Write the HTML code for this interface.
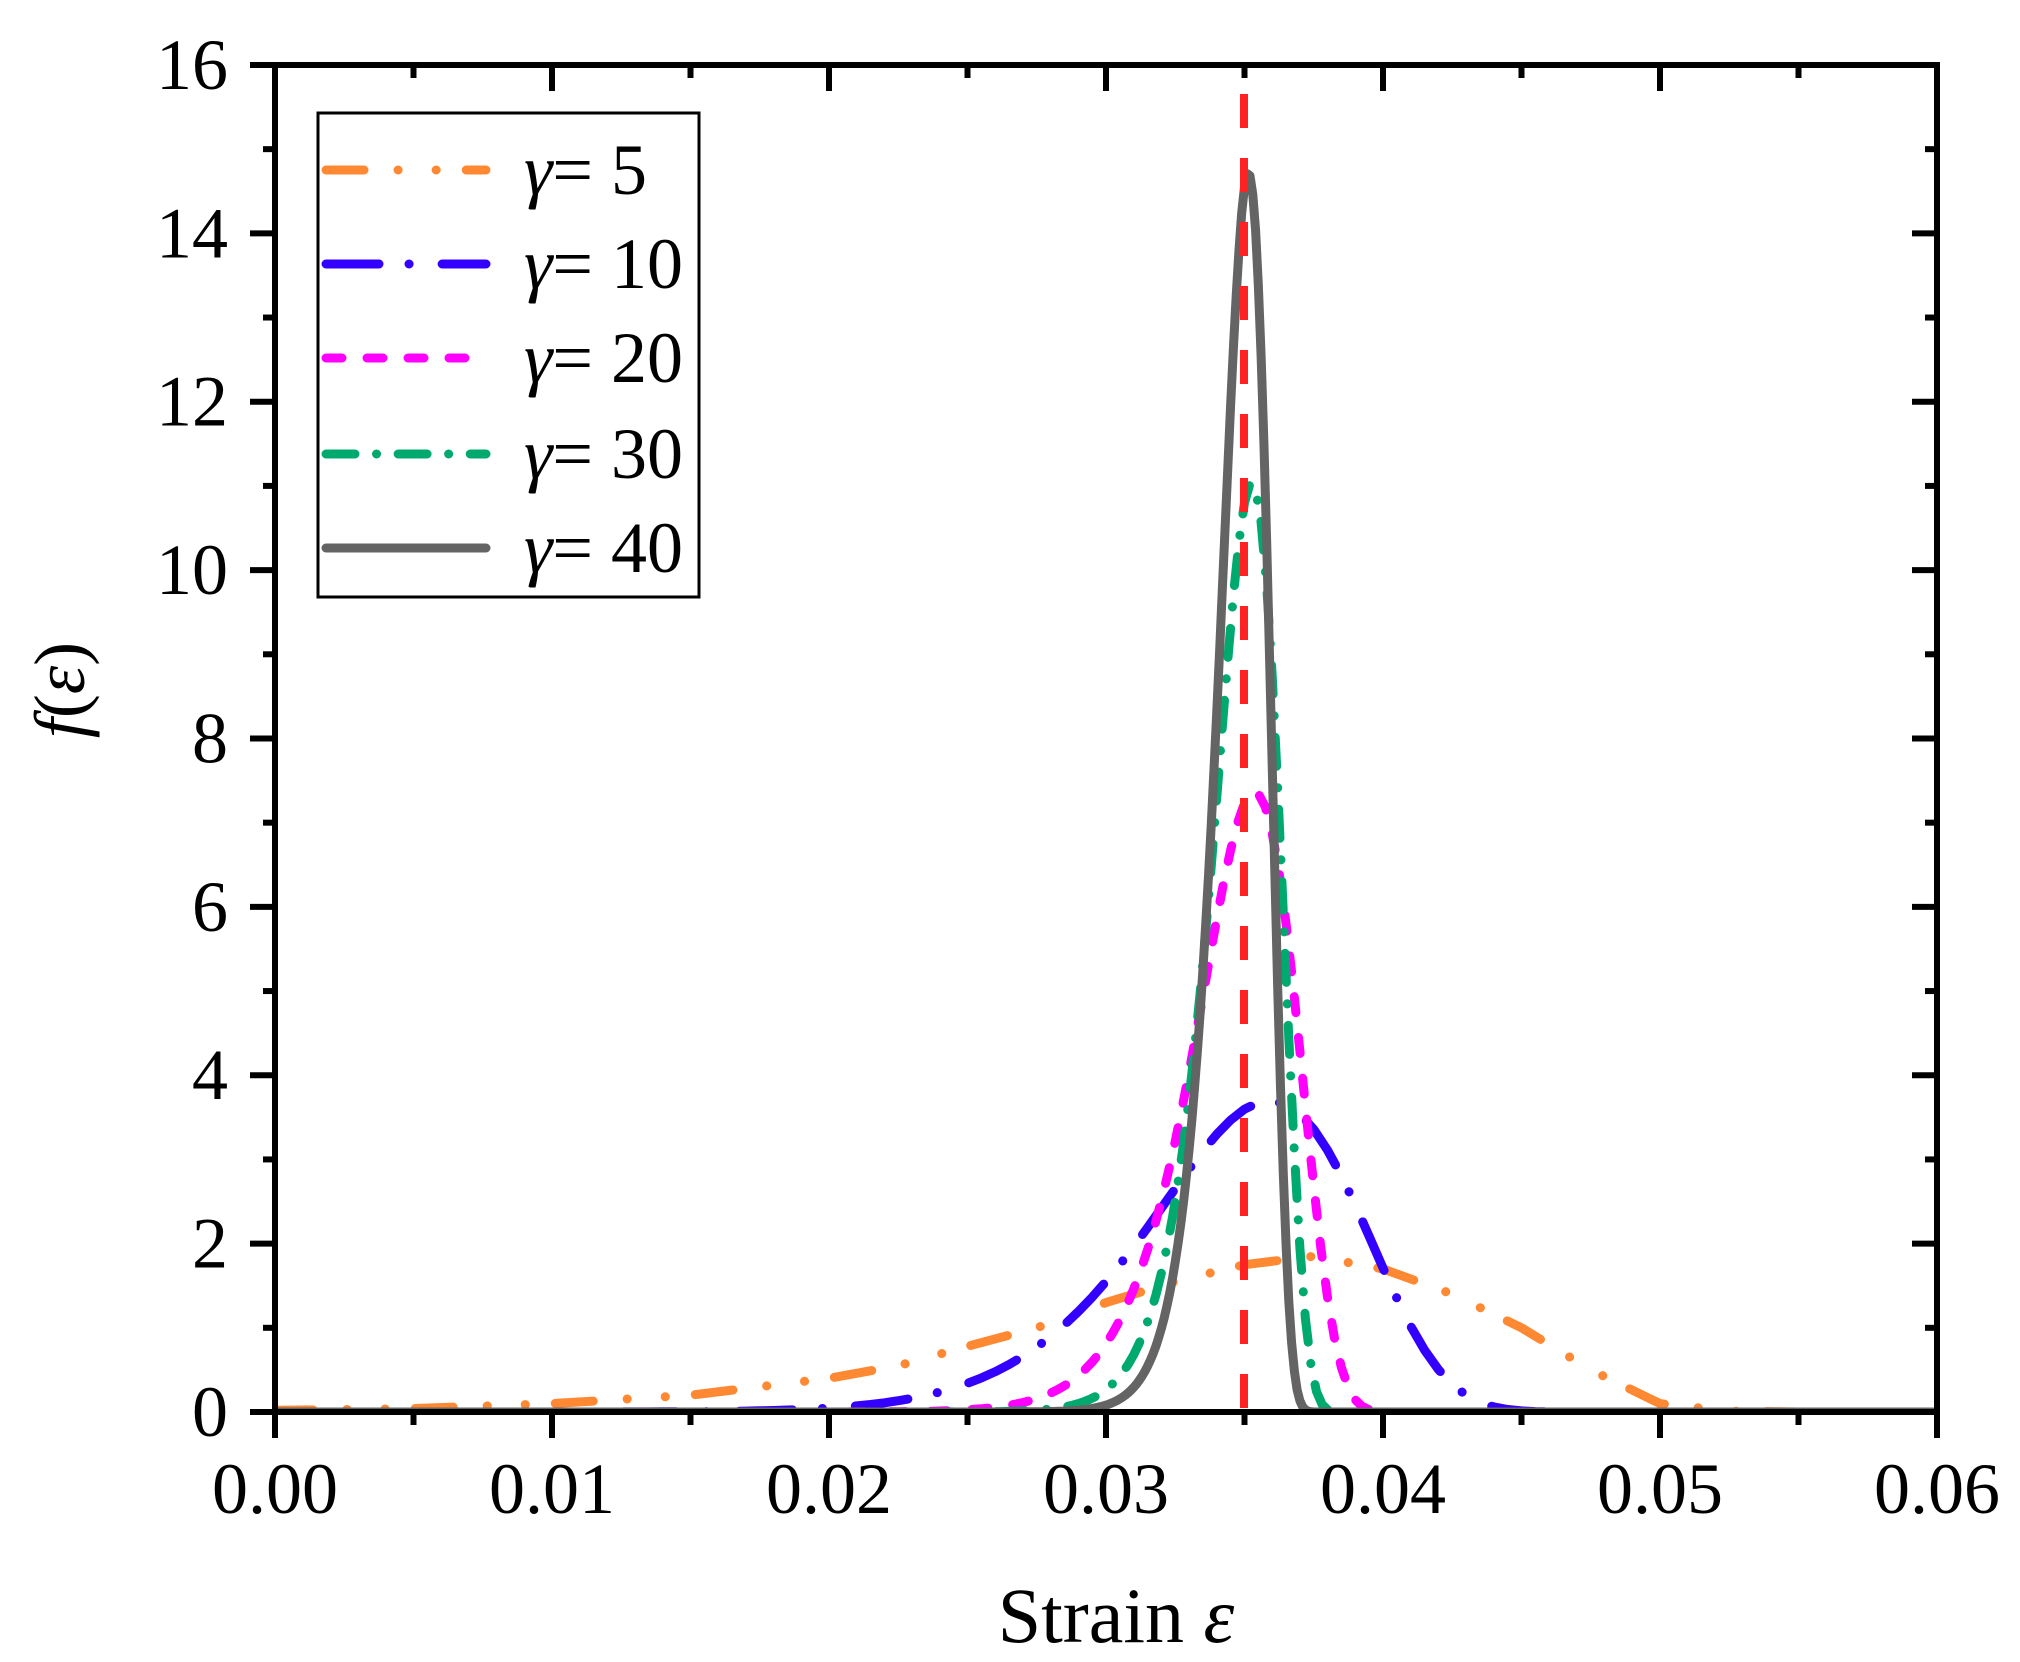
<!DOCTYPE html>
<html><head><meta charset="utf-8"><style>
html,body{margin:0;padding:0;background:#fff}
svg{display:block}
text{font-family:"Liberation Serif","Times New Roman",serif;fill:#000}
</style></head><body>
<svg id="s" width="2020" height="1662" viewBox="0 0 2020 1662" xmlns="http://www.w3.org/2000/svg">
<defs><clipPath id="c"><rect x="275" y="65" width="1662" height="1347"/></clipPath></defs>
<g id="curves" clip-path="url(#c)"></g>
<line x1="1244" y1="94" x2="1244" y2="1412" stroke="#FF2222" stroke-width="8" stroke-dasharray="34 30"/>
<rect x="275" y="65" width="1662" height="1347" fill="none" stroke="#000" stroke-width="6"/>
<g id="ticks" stroke="#000" stroke-width="6"></g>
<g id="labels" font-size="72"></g>
<rect x="318" y="113" width="381" height="484" fill="#fff" stroke="#000" stroke-width="3"/>
<g stroke-width="9" stroke-linecap="round" fill="none">
<line x1="326" y1="170" x2="486" y2="170" stroke="#FF8833" stroke-dasharray="38 34 0.1 38 0.1 30"/>
<line x1="326" y1="264" x2="486" y2="264" stroke="#3300FF" stroke-dasharray="53 30 0.1 33"/>
<line x1="326" y1="358" x2="486" y2="358" stroke="#FF00FF" stroke-dasharray="16 25"/>
<line x1="326" y1="454" x2="486" y2="454" stroke="#00AA6E" stroke-dasharray="29 21.5 0.1 21.5"/>
<line x1="326" y1="548" x2="486" y2="548" stroke="#646464"/>
</g>
<g font-size="72">
<text x="524" y="194"><tspan font-style="italic">γ</tspan>= 5</text>
<text x="524" y="288"><tspan font-style="italic">γ</tspan>= 10</text>
<text x="524" y="382"><tspan font-style="italic">γ</tspan>= 20</text>
<text x="524" y="478"><tspan font-style="italic">γ</tspan>= 30</text>
<text x="524" y="572"><tspan font-style="italic">γ</tspan>= 40</text>
</g>
<text x="1116" y="1642" font-size="78" text-anchor="middle">Strain <tspan font-style="italic">ε</tspan></text>
<text transform="translate(84,690) rotate(-90)" font-size="72" text-anchor="middle"><tspan font-style="italic">f</tspan>(<tspan font-style="italic">ε</tspan>)</text>
</svg>
<script>
var NS="http://www.w3.org/2000/svg";
function X(e){return 275+e*27700;}
function Y(f){return 1412-f*84.19;}
var g=document.getElementById("curves");
function poly(pts,c,d){
 var p=document.createElementNS(NS,"polyline");
 p.setAttribute("points",pts.join(" "));
 p.setAttribute("fill","none");p.setAttribute("stroke",c);
 p.setAttribute("stroke-width","9");p.setAttribute("stroke-linecap","round");p.setAttribute("stroke-linejoin","round");
 if(d)p.setAttribute("stroke-dasharray",d);
 g.appendChild(p);
}
var orange=[[0,0.02],[0.005,0.04],[0.01,0.1],[0.015,0.2],[0.02,0.4],[0.0225,0.55],[0.025,0.78],[0.0275,1.0],[0.03,1.3],[0.0325,1.55],[0.035,1.75],[0.0375,1.85],[0.04,1.7],[0.0425,1.4],[0.045,1.0],[0.0475,0.5],[0.05,0.1],[0.0525,0.01],[0.055,0],[0.06,0]];
poly(orange.map(function(p){return X(p[0]).toFixed(1)+","+Y(p[1]).toFixed(1);}),"#FF8833","38 34 0.1 38 0.1 30");
var series=[
 {k:10,l:0.0363,c:"#3300FF",d:"53 30 0.1 33",st:0.0005},
 {k:20,l:0.03545,c:"#FF00FF",d:"16 25",st:0.00025},
 {k:30,l:0.0353,c:"#00AA6E",d:"29 21.5 0.1 21.5",st:0.0002},
 {k:40,l:0.03516,c:"#646464",d:null,st:0.0001}
];
series.forEach(function(s){
 var pts=[];
 for(var e=0;e<=0.0600001;e+=s.st){
  var t=e/s.l, f=s.k*Math.pow(t,s.k-1)*Math.exp(-Math.pow(t,s.k));
  pts.push(X(e).toFixed(1)+","+Y(f).toFixed(1));
 }
 poly(pts,s.c,s.d);
});
var tk=document.getElementById("ticks"),lb=document.getElementById("labels");
function ln(a,b,c,d){var l=document.createElementNS(NS,"line");l.setAttribute("x1",a);l.setAttribute("y1",b);l.setAttribute("x2",c);l.setAttribute("y2",d);tk.appendChild(l);}
function tx(x,y,s,anc){var t=document.createElementNS(NS,"text");t.setAttribute("x",x);t.setAttribute("y",y);t.setAttribute("text-anchor",anc);t.textContent=s;lb.appendChild(t);}
for(var i=0;i<=12;i++){
 var x=275+i*138.5, maj=(i%2==0), L=maj?26:13;
 ln(x,1412,x,1412+L); ln(x,65,x,65+L);
 if(maj) tx(x,1513,(i/200).toFixed(2),"middle");
}
for(var j=0;j<=16;j++){
 var y=1412-j*84.19, maj=(j%2==0), L=maj?25:12;
 ln(275,y,275-L,y); ln(1937,y,1937-L,y);
 if(maj) tx(228,y+24,String(j),"end");
}
</script>
</body></html>
